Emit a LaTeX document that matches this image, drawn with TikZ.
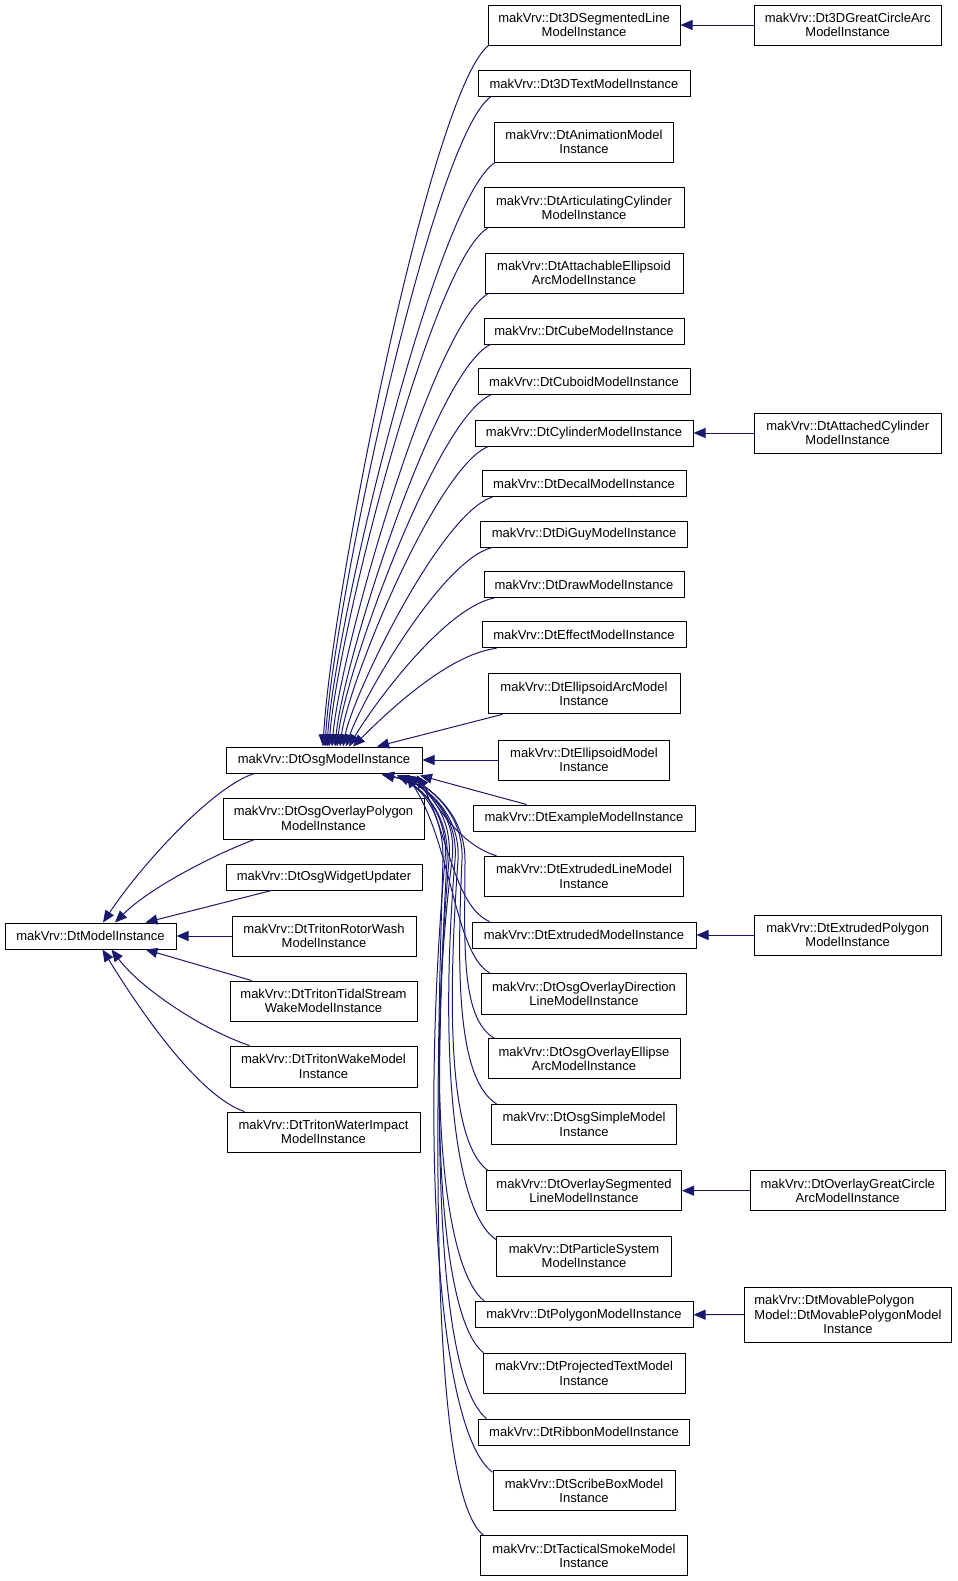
\documentclass[tikz,border=0pt]{standalone}
\usepackage{fontspec}
\setmainfont{Liberation Sans}
\usetikzlibrary{arrows.meta}
\definecolor{edgeblue}{HTML}{191970}
\newcommand\clsfont{\fontsize{9.75}{10.8}\selectfont}
\tikzset{
  cls/.style={draw=black, line width=0.75pt, fill=white, inner sep=0pt, align=center, font=\clsfont},
  sz/.style 2 args={minimum width=#1*0.75pt, minimum height=#2*0.75pt},
  inh/.style={draw=edgeblue, line width=0.75pt, -{Triangle[length=9pt,width=7.5pt]}}
}
\begin{document}
\begin{tikzpicture}[x=0.75pt,y=-0.75pt]
\useasboundingbox (0,0) rectangle (957,1581);
% left part
\node[cls,sz={171}{26}] (dtmi) at (90.5,936) {makVrv::DtModelInstance};
\node[cls,sz={196}{26}] (osg) at (324,760) {makVrv::DtOsgModelInstance};
\node[cls,sz={201}{41}] (opoly) at (323.5,818.5) {makVrv::DtOsgOverlayPolygon\\ModelInstance};
\node[cls,sz={196}{26}] (widget) at (324,877) {makVrv::DtOsgWidgetUpdater};
\node[cls,sz={184}{40}] (rotor) at (324,936) {makVrv::DtTritonRotorWash\\ModelInstance};
\node[cls,sz={187}{40}] (tidal) at (323.5,1001) {makVrv::DtTritonTidalStream\\WakeModelInstance};
\node[cls,sz={187}{41}] (wake) at (323.5,1066.5) {makVrv::DtTritonWakeModel\\Instance};
\node[cls,sz={193}{40}] (water) at (323.5,1132) {makVrv::DtTritonWaterImpact\\ModelInstance};
% middle column
\node[cls,sz={192}{40}] (c1) at (584,25) {makVrv::Dt3DSegmentedLine\\ModelInstance};
\node[cls,sz={212}{26}] (c2) at (584,83.5) {makVrv::Dt3DTextModelInstance};
\node[cls,sz={179}{40}] (c3) at (584,142) {makVrv::DtAnimationModel\\Instance};
\node[cls,sz={200}{40}] (c4) at (584,207.7) {makVrv::DtArticulatingCylinder\\ModelInstance};
\node[cls,sz={198}{40}] (c5) at (584,273) {makVrv::DtAttachableEllipsoid\\ArcModelInstance};
\node[cls,sz={200}{26}] (c6) at (584,331) {makVrv::DtCubeModelInstance};
\node[cls,sz={212}{26}] (c7) at (584,381.7) {makVrv::DtCuboidModelInstance};
\node[cls,sz={218}{26}] (c8) at (584,433) {makVrv::DtCylinderModelInstance};
\node[cls,sz={204}{26}] (c9) at (584,483.5) {makVrv::DtDecalModelInstance};
\node[cls,sz={207}{26}] (c10) at (584,534) {makVrv::DtDiGuyModelInstance};
\node[cls,sz={200}{26}] (c11) at (584,584.4) {makVrv::DtDrawModelInstance};
\node[cls,sz={204}{26}] (c12) at (584,634.8) {makVrv::DtEffectModelInstance};
\node[cls,sz={192}{40}] (c13) at (584,693.8) {makVrv::DtEllipsoidArcModel\\Instance};
\node[cls,sz={171}{40}] (c14) at (584,760) {makVrv::DtEllipsoidModel\\Instance};
\node[cls,sz={222}{26}] (c15) at (584,818) {makVrv::DtExampleModelInstance};
\node[cls,sz={199}{40}] (c16) at (584,876.3) {makVrv::DtExtrudedLineModel\\Instance};
\node[cls,sz={224}{26}] (c17) at (584,935) {makVrv::DtExtrudedModelInstance};
\node[cls,sz={205}{41}] (c18) at (584,993.8) {makVrv::DtOsgOverlayDirection\\LineModelInstance};
\node[cls,sz={192}{40}] (c19) at (584,1058.8) {makVrv::DtOsgOverlayEllipse\\ArcModelInstance};
\node[cls,sz={185}{40}] (c20) at (584,1124.4) {makVrv::DtOsgSimpleModel\\Instance};
\node[cls,sz={195}{40}] (c21) at (584,1190.7) {makVrv::DtOverlaySegmented\\LineModelInstance};
\node[cls,sz={175}{40}] (c22) at (584,1256) {makVrv::DtParticleSystem\\ModelInstance};
\node[cls,sz={218}{26}] (c23) at (584,1314.7) {makVrv::DtPolygonModelInstance};
\node[cls,sz={202}{40}] (c24) at (584,1373.2) {makVrv::DtProjectedTextModel\\Instance};
\node[cls,sz={211}{26}] (c25) at (584,1432) {makVrv::DtRibbonModelInstance};
\node[cls,sz={182}{40}] (c26) at (584,1490.7) {makVrv::DtScribeBoxModel\\Instance};
\node[cls,sz={207}{40}] (c27) at (584,1555.8) {makVrv::DtTacticalSmokeModel\\Instance};
% right column
\node[cls,sz={187}{40}] (gca) at (847.7,25) {makVrv::Dt3DGreatCircleArc\\ModelInstance};
\node[cls,sz={187}{40}] (acyl) at (847.7,433) {makVrv::DtAttachedCylinder\\ModelInstance};
\node[cls,sz={187}{40}] (epoly) at (847.7,935) {makVrv::DtExtrudedPolygon\\ModelInstance};
\node[cls,sz={195}{40}] (ogc) at (847.7,1190.7) {makVrv::DtOverlayGreatCircle\\ArcModelInstance};
\node[cls,sz={207}{55}] (mpoly) at (848,1314.6) {makVrv::DtMovablePolygon\hspace*{20.5pt}\\Model::DtMovablePolygonModel\\Instance};

% edges to DtModelInstance
\draw[inh] ([shift={(29,0)}]osg.south west) .. controls +(-40,12) and +(40,-60) .. ([shift={(12.5,0)}]dtmi.north);
\draw[inh] ([shift={(32,0)}]opoly.south west) .. controls +(-40,15) and +(35,-35) .. ([shift={(24.5,0)}]dtmi.north);
\draw[inh] ([shift={(46,0)}]widget.south west) -- ([shift={(55,0)}]dtmi.north);
\draw[inh] (rotor.west) -- (dtmi.east);
\draw[inh] ([shift={(22,0)}]tidal.north west) -- ([shift={(55,0)}]dtmi.south);
\draw[inh] ([shift={(20,0)}]wake.north west) .. controls +(-45,-15) and +(30,40) .. ([shift={(21,0)}]dtmi.south);
\draw[inh] ([shift={(18,0)}]water.north west) .. controls +(-45,-15) and +(40,65) .. ([shift={(12,0)}]dtmi.south);

% upper children to DtOsgModelInstance
\draw[inh] ([shift={(1,0)}]c1.south west) .. controls +(-58,46) and +(8,-147) .. ([shift={(-1,0)}]osg.north);
\draw[inh] ([shift={(13,0)}]c2.south west) .. controls +(-58,42) and +(8,-137) .. ([shift={(1,0)}]osg.north);
\draw[inh] ([shift={(1,0)}]c3.south west) .. controls +(-59,38) and +(8,-123) .. ([shift={(3,0)}]osg.north);
\draw[inh] ([shift={(4,0)}]c4.south west) .. controls +(-56,34) and +(8,-109) .. ([shift={(5,0)}]osg.north);
\draw[inh] ([shift={(4,0)}]c5.south west) .. controls +(-55,30) and +(8,-95) .. ([shift={(8,0)}]osg.north);
\draw[inh] ([shift={(7,0)}]c6.south west) .. controls +(-55,26) and +(8,-85) .. ([shift={(11,0)}]osg.north);
\draw[inh] ([shift={(13,0)}]c7.south west) .. controls +(-54,23) and +(8,-74) .. ([shift={(13,0)}]osg.north);
\draw[inh] ([shift={(14,0)}]c8.south west) .. controls +(-52,20) and +(8,-63) .. ([shift={(16,0)}]osg.north);
\draw[inh] ([shift={(11,0)}]c9.south west) .. controls +(-52,16) and +(10,-52) .. ([shift={(19,0)}]osg.north);
\draw[inh] ([shift={(12,0)}]c10.south west) .. controls +(-51,13) and +(15,-45) .. ([shift={(22,0)}]osg.north);
\draw[inh] ([shift={(11,0)}]c11.south west) .. controls +(-51,10) and +(22,-38) .. ([shift={(25,0)}]osg.north);
\draw[inh] ([shift={(15,0)}]c12.south west) .. controls +(-50,6) and +(30,-30) .. ([shift={(29,0)}]osg.north);
\draw[inh] ([shift={(15,0)}]c13.south west) -- ([shift={(53,0)}]osg.north);
\draw[inh] (c14.west) -- (osg.east);

% lower children to DtOsgModelInstance
\draw[inh] ([shift={(54,0)}]c15.north west) -- ([shift={(96,2)}]osg.south);
\draw[inh] ([shift={(12.5,0)}]c16.north west) .. controls +(-40,-12) and +(15,22) .. ([shift={(93,2)}]osg.south);
\draw[inh] ([shift={(18,0)}]c17.north west) .. controls +(-35,-15) and +(30,55) .. ([shift={(93,2)}]osg.south);
\draw[inh] ([shift={(8.5,0)}]c18.north west) .. controls +(-35,-20) and +(45,70) .. ([shift={(83,2)}]osg.south);
\draw[inh] ([shift={(7,0)}]c19.north west) .. controls +(-35,-20) and +(0,80) .. (465,860)
   .. controls +(0,-45) and +(25,15) .. ([shift={(83,2)}]osg.south);
\draw[inh] ([shift={(5.5,0)}]c20.north west) .. controls +(-40,-25) and +(-5,110) .. (462,860)
   .. controls +(2,-45) and +(25,15) .. ([shift={(83,2)}]osg.south);
\draw[inh] ([shift={(1.5,0)}]c21.north west) .. controls +(-40,-30) and +(-10,140) .. (458,860)
   .. controls +(3,-45) and +(30,12) .. ([shift={(73,2)}]osg.south);
\draw[inh] ([shift={(0,4)}]c22.north west) .. controls +(-45,-30) and +(-15,180) .. (455,860)
   .. controls +(4,-45) and +(30,12) .. ([shift={(73,2)}]osg.south);
\draw[inh] ([shift={(10,0)}]c23.north west) .. controls +(-45,-35) and +(-25,200) .. (452,860)
   .. controls +(6,-45) and +(30,12) .. ([shift={(73,2)}]osg.south);
\draw[inh] ([shift={(1,0)}]c24.north west) .. controls +(-45,-35) and +(-20,230) .. (449,860)
   .. controls +(4,-45) and +(30,12) .. ([shift={(73,2)}]osg.south);
\draw[inh] ([shift={(8.5,0)}]c25.north west) .. controls +(-50,-40) and +(-15,260) .. (447,860)
   .. controls +(3,-45) and +(40,8) .. ([shift={(58,1)}]osg.south);
\draw[inh] ([shift={(0,2)}]c26.north west) .. controls +(-55,-40) and +(-25,280) .. (445,860)
   .. controls +(4,-45) and +(40,8) .. ([shift={(58,1)}]osg.south);
\draw[inh] ([shift={(3.5,0)}]c27.north west) .. controls +(-50,-40) and +(-10,320) .. (443,860)
   .. controls +(1,-45) and +(40,8) .. ([shift={(58,1)}]osg.south);

% right column edges
\draw[inh] (gca.west) -- (c1.east);
\draw[inh] (acyl.west) -- (c8.east);
\draw[inh] (epoly.west) -- (c17.east);
\draw[inh] (ogc.west) -- (c21.east);
\draw[inh] (mpoly.west) -- (c23.east);
\end{tikzpicture}
\end{document}
